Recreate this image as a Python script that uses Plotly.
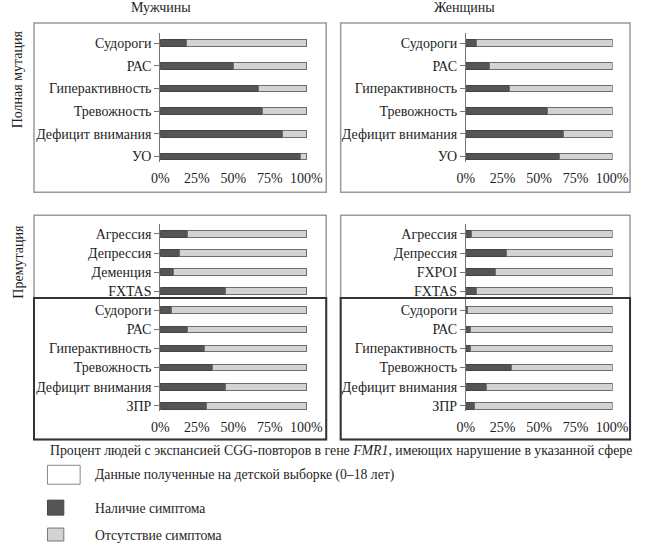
import plotly.graph_objects as go

# ---------------- data ----------------
full_categories = ["Судороги", "РАС", "Гиперактивность", "Тревожность", "Дефицит внимания", "УО"]
full_men = [18, 50, 67, 70, 84, 96]
full_women = [7, 16, 30, 56, 67, 64]

pre_categories_men = ["Агрессия", "Депрессия", "Деменция", "FXTAS", "Судороги", "РАС",
                      "Гиперактивность", "Тревожность", "Дефицит внимания", "ЗПР"]
pre_men = [19, 13, 9, 45, 8, 19, 30, 36, 45, 32]
pre_categories_women = ["Агрессия", "Депрессия", "FXPOI", "FXTAS", "Судороги", "РАС",
                        "Гиперактивность", "Тревожность", "Дефицит внимания", "ЗПР"]
pre_women = [4, 28, 20, 7, 1, 3, 3, 31, 14, 6]

x_ticks = [0, 25, 50, 75, 100]
x_tick_labels = ["0%", "25%", "50%", "75%", "100%"]

col_titles = ["Мужчины", "Женщины"]
row_titles = ["Полная мутация", "Премутация"]
note = "Процент людей с экспансией CGG-повторов в гене <i>FMR1</i>, имеющих нарушение в указанной сфере"
legend_labels = ["Данные полученные на детской выборке (0–18 лет)", "Наличие симптома", "Отсутствие симптома"]

# ---------------- styling ----------------
W, H = 647, 544
FONT = "Liberation Serif"
TXT = "#1e1e1e"
DARK = "#555555"
LIGHT = "#d3d3d3"
EDGE = "#6e6e6e"
FS = 14


def px(x):
    return x / W


def py(y):
    return 1 - y / H


fig = go.Figure()

panels = [
    ("", full_categories, full_men, 157.3, 310, 33, 163, [5.26, -0.45], 0.30),
    ("2", full_categories, full_women, 475.3, 628, 33, 163, [5.26, -0.45], 0.30),
    ("3", pre_categories_men, pre_men, 157.3, 310, 225, 413, [9.30, -0.51], 0.35),
    ("4", pre_categories_women, pre_women, 475.3, 628, 225, 413, [9.30, -0.51], 0.35),
]

for ax, cats, vals, x0, x1, yt, yb, rng, bw in panels:
    absent = [100 - v for v in vals]
    fig.add_trace(go.Bar(
        y=cats, x=vals, orientation="h", xaxis="x" + ax, yaxis="y" + ax,
        marker=dict(color=DARK, line=dict(color="#444444", width=1)),
        width=bw, showlegend=False, hoverinfo="x+y"))
    fig.add_trace(go.Bar(
        y=cats, x=absent, orientation="h", xaxis="x" + ax, yaxis="y" + ax,
        marker=dict(color=LIGHT, line=dict(color=EDGE, width=1)),
        width=bw, showlegend=False, hoverinfo="x+y"))
    xa = dict(domain=[px(x0), px(x1)], range=[0, 100.5], anchor="y" + ax,
              tickvals=x_ticks, ticktext=x_tick_labels, showgrid=False, zeroline=False,
              showline=False, ticks="outside", ticklen=3, tickcolor="rgba(0,0,0,0)",
              tickfont=dict(family=FONT, size=FS, color=TXT), fixedrange=True)
    ya = dict(domain=[py(yb), py(yt)], range=rng, anchor="x" + ax, type="category",
              categoryorder="array", categoryarray=cats,
              showgrid=False, zeroline=False, showline=True, linecolor="#777777", linewidth=1,
              ticks="outside", ticklen=5, tickcolor="#777777",
              tickfont=dict(family=FONT, size=FS, color=TXT), fixedrange=True)
    fig.update_layout(**{"xaxis" + ax: xa, "yaxis" + ax: ya})

shapes = []
for x0, x1 in [(26, 330), (345, 646)]:
    shapes.append(dict(type="rect", xref="paper", yref="paper", x0=px(x0), x1=px(x1),
                       y0=py(193), y1=py(23), line=dict(color="#9a9a9a", width=1.5)))
    shapes.append(dict(type="rect", xref="paper", yref="paper", x0=px(x0), x1=px(x1),
                       y0=py(441), y1=py(216), line=dict(color="#9a9a9a", width=1.5)))
    shapes.append(dict(type="rect", xref="paper", yref="paper", x0=px(x0), x1=px(x1),
                       y0=py(441), y1=py(299), line=dict(color="#333333", width=2)))
shapes.append(dict(type="rect", xref="paper", yref="paper", x0=px(40), x1=px(74),
                   y0=py(486), y1=py(467), fillcolor="white", line=dict(color="#888888", width=1)))
shapes.append(dict(type="rect", xref="paper", yref="paper", x0=px(40), x1=px(57),
                   y0=py(517), y1=py(502), fillcolor=DARK, line=dict(color="#444444", width=1)))
shapes.append(dict(type="rect", xref="paper", yref="paper", x0=px(40), x1=px(57),
                   y0=py(543), y1=py(530), fillcolor=LIGHT, line=dict(color="#777777", width=1)))

ann = []
f = dict(family=FONT, size=FS, color=TXT)
ann.append(dict(text=col_titles[0], x=px(158), y=py(8), xref="paper", yref="paper",
                showarrow=False, font=f, xanchor="center", yanchor="middle"))
ann.append(dict(text=col_titles[1], x=px(474), y=py(8), xref="paper", yref="paper",
                showarrow=False, font=f, xanchor="center", yanchor="middle"))
ann.append(dict(text=row_titles[0], x=px(9), y=py(80), xref="paper", yref="paper",
                showarrow=False, font=f, textangle=-90, xanchor="center", yanchor="middle"))
ann.append(dict(text=row_titles[1], x=px(9), y=py(263), xref="paper", yref="paper",
                showarrow=False, font=f, textangle=-90, xanchor="center", yanchor="middle"))
ann.append(dict(text=note, x=px(41), y=py(452), xref="paper", yref="paper",
                showarrow=False, font=dict(family=FONT, size=13.8, color=TXT),
                xanchor="left", yanchor="middle"))
for lab, yy in zip(legend_labels, [477, 510, 537]):
    ann.append(dict(text=lab, x=px(87), y=py(yy), xref="paper", yref="paper",
                    showarrow=False, font=dict(family=FONT, size=13.7, color=TXT),
                    xanchor="left", yanchor="middle"))

fig.update_layout(
    width=W, height=H, autosize=False,
    margin=dict(l=0, r=0, t=0, b=0),
    paper_bgcolor="white", plot_bgcolor="white",
    barmode="stack", shapes=shapes, annotations=ann,
    font=dict(family=FONT, color=TXT),
)

fig.write_html("out.html", config={"displayModeBar": False},
               post_script="document.body.style.margin='0';document.body.style.padding='0';"
                           "document.body.style.overflow='hidden';")
